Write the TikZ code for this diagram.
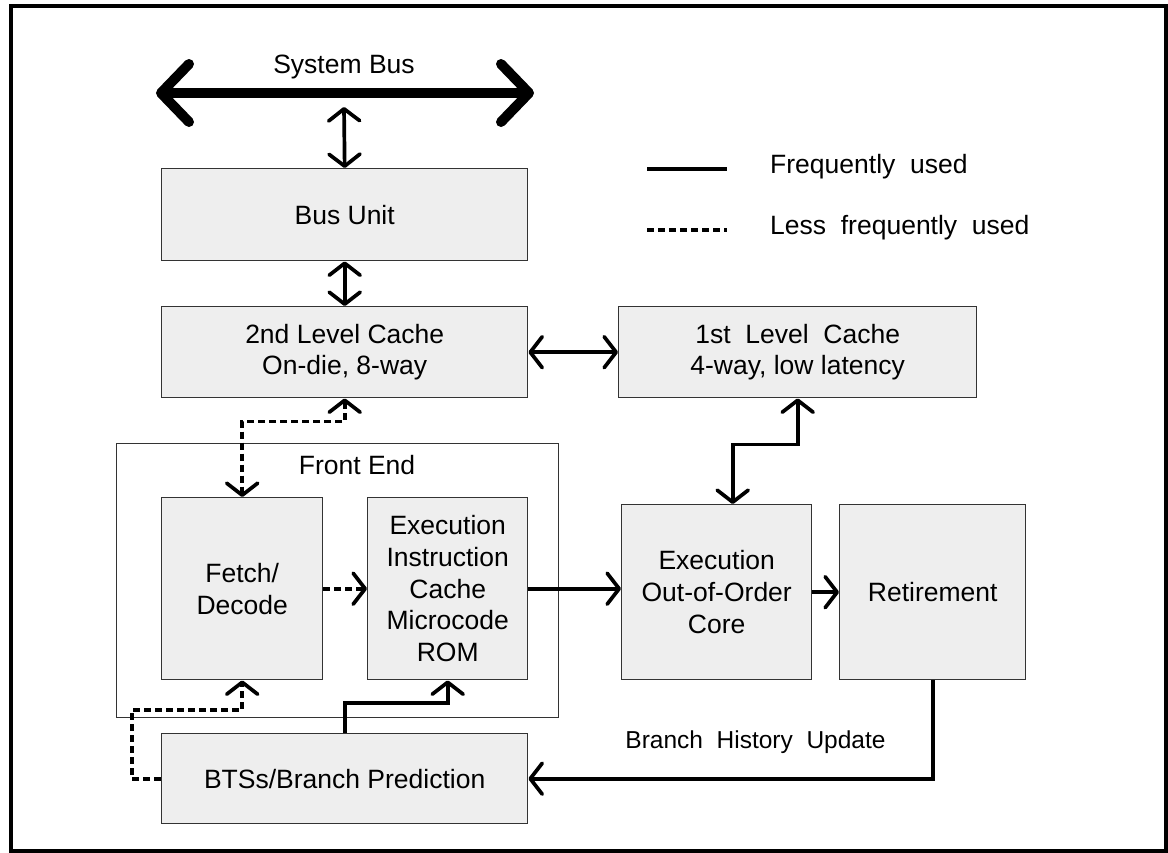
\documentclass[tikz,border=0pt]{standalone}
\usepackage{fontspec}
\setmainfont{Liberation Sans}
\usetikzlibrary{arrows.meta}
\definecolor{boxfill}{HTML}{EEEEEE}
\definecolor{boxline}{HTML}{333333}
\newcommand\lblfont{\fontsize{26.5}{31.7}\selectfont}
\begin{document}
\begin{tikzpicture}[x=1pt,y=-1pt,
  box/.style={draw=boxline, fill=boxfill, line width=1.4pt, anchor=north west,
    inner sep=0pt, align=center, font=\lblfont},
  frame/.style={draw=boxline, line width=1.4pt, anchor=north west, inner sep=0pt},
  lbl/.style={font=\lblfont, inner sep=0pt},
  tipb/.tip={Straight Barb[length=12pt, width=31pt, line cap=round, line join=round]},
  conn/.style={line width=3.7pt, tipb-tipb},
  fwd/.style={line width=3.7pt, -tipb},
  dsh/.style={dash pattern=on 7pt off 4pt},
]
\useasboundingbox (0,0) rectangle (1168,852);
\draw[line width=4pt] (11,5.5) rectangle (1166,850.5);

% boxes
\node[frame, minimum width=442pt, minimum height=274pt] (fe) at (116,443) {};
\node[box, minimum width=366pt, minimum height=92pt] (bus) at (161,168) {Bus Unit};
\node[box, minimum width=366pt, minimum height=91pt] (l2) at (161,306) {2nd Level Cache\\On-die, 8-way};
\node[box, minimum width=358pt, minimum height=91pt] (l1) at (618,306) {1st\ \ Level\ \ Cache\\4-way, low latency};
\node[box, minimum width=161pt, minimum height=182pt] (fetch) at (161,497) {Fetch/\\Decode};
\node[box, minimum width=160pt, minimum height=182pt] (eic) at (367,497) {Execution\\Instruction\\Cache\\Microcode\\ROM};
\node[box, minimum width=190pt, minimum height=175pt] (ooo) at (621,504) {Execution\\Out-of-Order\\Core};
\node[box, minimum width=186pt, minimum height=175pt] (ret) at (839,504) {Retirement};
\node[box, minimum width=366pt, minimum height=90pt] (bts) at (161,733) {BTSs/Branch Prediction};

% labels
\node[lbl, anchor=base] (sbl) at (344,73) {System Bus};
\node[lbl, anchor=base] (fel) at (357,474) {Front End};
\node[lbl, anchor=base, font=\fontsize{24.5}{29}\selectfont] (bhu) at (755.5,748) {Branch\ \ History\ \ Update};

% system bus
\coordinate (sbL) at (156,93);
\coordinate (sbR) at (534,93);
\coordinate (sbT) at (344,107);
\draw[line width=10pt, {Straight Barb[length=28pt, width=58pt, line cap=round, line join=round]}-{Straight Barb[length=28pt, width=58pt, line cap=round, line join=round]}] (sbL) -- (sbR);
\draw[conn] (sbT) -- (bus.north);

% connectors
\draw[conn] (bus.south) -- (l2.north);
\draw[conn] (l2.east) -- (l1.west);
\draw[conn] (l1.south) -- ++(0,46) -| ([xshift=16pt]ooo.north);
\draw[conn, dsh] (l2.south) -- ++(0,23) -| (fetch.north);
\draw[fwd, dsh] (fetch.east) -- (eic.west);
\draw[fwd] (eic.east) -- (eic.east -| ooo.west);
\draw[fwd] (ooo.east) -- (ret.west);
\draw[fwd] (ret.south) |- (bts.east);
\draw[fwd, dsh] (bts.west) -- ++(-29,0) -- ++(0,-69) -| (fetch.south);
\draw[fwd] (bts.north) -- ++(0,-30) -| (eic.south);

% legend
\coordinate (lgA1) at (647,169);
\coordinate (lgA2) at (727,169);
\coordinate (lgB1) at (647,230);
\coordinate (lgB2) at (727,230);
\draw[line width=3.7pt] (lgA1) -- (lgA2);
\draw[line width=3.7pt, dsh] (lgB1) -- (lgB2);
\node[lbl, anchor=base west] (lgt1) at (770,173) {Frequently\ \ used};
\node[lbl, anchor=base west] (lgt2) at (770,234) {Less\ \ frequently\ \ used};
\end{tikzpicture}
\end{document}
